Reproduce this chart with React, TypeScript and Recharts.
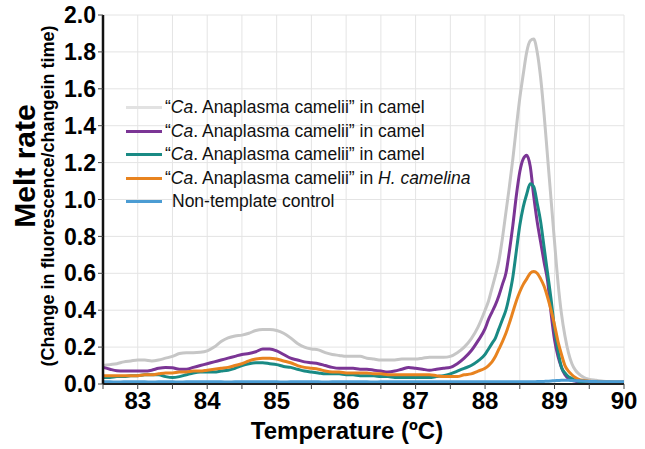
import React from 'react';
import { LineChart, Line, XAxis, YAxis, CartesianGrid, Legend } from 'recharts';

const temperatures = [
  82.5, 82.6, 82.7, 82.8, 82.9,
  83.0, 83.1, 83.2, 83.3, 83.4, 83.5, 83.6, 83.7, 83.8, 83.9,
  84.0, 84.1, 84.2, 84.3, 84.4, 84.5, 84.6, 84.7, 84.8, 84.9,
  85.0, 85.1, 85.2, 85.3, 85.4, 85.5, 85.6, 85.7, 85.8, 85.9,
  86.0, 86.1, 86.2, 86.3, 86.4, 86.5, 86.6, 86.7, 86.8, 86.9,
  87.0, 87.1, 87.2, 87.3, 87.4, 87.5, 87.6, 87.7, 87.8, 87.9,
  88.0, 88.05, 88.1, 88.15, 88.2, 88.25, 88.3, 88.35, 88.4, 88.45,
  88.5, 88.55, 88.6, 88.65, 88.7, 88.75, 88.8, 88.85, 88.9, 88.95,
  89.0, 89.05, 89.1, 89.15, 89.2, 89.25, 89.3, 89.35, 89.4, 89.45,
  89.5, 89.6, 89.7, 89.8, 89.9, 90.0,
];

const camelGray = [
  0.10, 0.105, 0.11, 0.12, 0.125,
  0.13, 0.13, 0.125, 0.13, 0.14, 0.15, 0.165, 0.17, 0.17, 0.172,
  0.18, 0.20, 0.23, 0.25, 0.26, 0.265, 0.275, 0.29, 0.295, 0.295,
  0.29, 0.275, 0.25, 0.22, 0.20, 0.19, 0.185, 0.17, 0.16, 0.155,
  0.15, 0.15, 0.15, 0.14, 0.135, 0.13, 0.13, 0.13, 0.135, 0.135,
  0.135, 0.14, 0.145, 0.145, 0.145, 0.15, 0.17, 0.20, 0.245, 0.31,
  0.40, 0.45, 0.52, 0.59, 0.67, 0.79, 0.93, 1.07, 1.22, 1.39,
  1.55, 1.68, 1.80, 1.86, 1.87, 1.80, 1.66, 1.46, 1.23, 1.0,
  0.77, 0.55, 0.38, 0.26, 0.17, 0.11, 0.075, 0.055, 0.04, 0.03,
  0.025, 0.02, 0.015, 0.012, 0.01, 0.01,
];

const camelPurple = [
  0.09, 0.08, 0.072, 0.07, 0.07,
  0.07, 0.07, 0.075, 0.085, 0.09, 0.088, 0.08, 0.08, 0.09, 0.10,
  0.11, 0.12, 0.13, 0.14, 0.15, 0.16, 0.165, 0.175, 0.19, 0.19,
  0.18, 0.16, 0.14, 0.13, 0.12, 0.115, 0.11, 0.10, 0.09, 0.085,
  0.085, 0.085, 0.08, 0.08, 0.075, 0.07, 0.065, 0.07, 0.08, 0.09,
  0.085, 0.08, 0.075, 0.08, 0.085, 0.09, 0.11, 0.14, 0.18, 0.235,
  0.30, 0.35, 0.39, 0.43, 0.48, 0.54, 0.60, 0.72, 0.86, 1.02,
  1.15, 1.22, 1.24, 1.18, 1.02, 0.88, 0.77, 0.66, 0.56, 0.385,
  0.24, 0.15, 0.09, 0.05, 0.03, 0.02, 0.015, 0.012, 0.01, 0.01,
  0.01, 0.01, 0.01, 0.01, 0.01, 0.01,
];

const camelTeal = [
  0.035, 0.035, 0.04, 0.04, 0.045,
  0.045, 0.05, 0.05, 0.05, 0.04, 0.035, 0.04, 0.05, 0.06, 0.065,
  0.065, 0.065, 0.07, 0.075, 0.085, 0.10, 0.11, 0.115, 0.115, 0.11,
  0.105, 0.095, 0.09, 0.08, 0.07, 0.065, 0.06, 0.055, 0.055, 0.055,
  0.05, 0.05, 0.045, 0.045, 0.045, 0.04, 0.04, 0.035, 0.035, 0.035,
  0.035, 0.035, 0.035, 0.04, 0.045, 0.055, 0.07, 0.085, 0.10, 0.125,
  0.16, 0.19, 0.22, 0.25, 0.30, 0.35, 0.40, 0.48, 0.58, 0.72,
  0.86, 0.96, 1.03, 1.085, 1.07, 0.98, 0.88, 0.74, 0.60, 0.46,
  0.30, 0.18, 0.09, 0.06, 0.04, 0.03, 0.02, 0.015, 0.01, 0.01,
  0.01, 0.01, 0.01, 0.01, 0.01, 0.01,
];

const tickOrange = [
  0.045, 0.045, 0.045, 0.045, 0.045,
  0.045, 0.05, 0.05, 0.055, 0.06, 0.06, 0.065, 0.065, 0.07, 0.07,
  0.075, 0.08, 0.085, 0.09, 0.10, 0.11, 0.125, 0.135, 0.14, 0.14,
  0.135, 0.125, 0.115, 0.10, 0.09, 0.085, 0.08, 0.07, 0.065, 0.065,
  0.06, 0.06, 0.06, 0.06, 0.055, 0.055, 0.05, 0.05, 0.05, 0.05,
  0.05, 0.05, 0.05, 0.045, 0.04, 0.04, 0.04, 0.05, 0.055, 0.07,
  0.085, 0.10, 0.12, 0.15, 0.19, 0.23, 0.275, 0.33, 0.39, 0.45,
  0.50, 0.54, 0.57, 0.60, 0.61, 0.60, 0.57, 0.53, 0.47, 0.40,
  0.32, 0.23, 0.16, 0.10, 0.07, 0.05, 0.035, 0.025, 0.02, 0.018,
  0.015, 0.012, 0.01, 0.01, 0.01, 0.01,
];

const controlBlue = [
  0.012, 0.012, 0.011, 0.012, 0.012,
  0.012, 0.012, 0.011, 0.012, 0.012, 0.012, 0.011, 0.012, 0.012, 0.012,
  0.012, 0.012, 0.012, 0.011, 0.012, 0.012, 0.012, 0.012, 0.012, 0.012,
  0.012, 0.011, 0.012, 0.012, 0.012, 0.012, 0.012, 0.011, 0.012, 0.012,
  0.012, 0.012, 0.012, 0.012, 0.011, 0.012, 0.012, 0.012, 0.012, 0.012,
  0.012, 0.012, 0.012, 0.012, 0.012, 0.012, 0.012, 0.012, 0.012, 0.012,
  0.012, 0.012, 0.012, 0.012, 0.012, 0.012, 0.012, 0.012, 0.012, 0.012,
  0.012, 0.012, 0.012, 0.012, 0.012, 0.013, 0.013, 0.014, 0.015, 0.016,
  0.018, 0.019, 0.02, 0.02, 0.02, 0.019, 0.018, 0.017, 0.016, 0.015,
  0.014, 0.013, 0.012, 0.012, 0.012, 0.012,
];

const xTicks = [82.5, 83, 83.5, 84, 84.5, 85, 85.5, 86, 86.5, 87, 87.5, 88, 88.5, 89, 89.5, 90];
const yTicks = [0, 0.2, 0.4, 0.6, 0.8, 1.0, 1.2, 1.4, 1.6, 1.8, 2.0];

const data = temperatures.map((t, i) => ({
  t,
  gray: camelGray[i],
  purple: camelPurple[i],
  teal: camelTeal[i],
  orange: tickOrange[i],
  blue: controlBlue[i],
}));

const FONT = 'Liberation Sans, Arial, Helvetica, sans-serif';

const COLORS = {
  gray: '#c6c6c6',
  purple: '#7b3595',
  teal: '#198a84',
  orange: '#e8831f',
  blue: '#4b9cd3',
};

const legendRows = [
  { color: '#e2e2e2', label: <span>“<i>Ca</i>. Anaplasma camelii” in camel</span>, pad: 0 },
  { color: COLORS.purple, label: <span>“<i>Ca</i>. Anaplasma camelii” in camel</span>, pad: 0 },
  { color: COLORS.teal, label: <span>“<i>Ca</i>. Anaplasma camelii” in camel</span>, pad: 0 },
  { color: COLORS.orange, label: <span>“<i>Ca</i>. Anaplasma camelii” in <i>H. camelina</i></span>, pad: 0 },
  { color: COLORS.blue, label: <span>Non-template control</span>, pad: 7 },
];

const renderLegend = () => (
  <div style={{ fontFamily: FONT, fontSize: 17.5, color: '#111' }}>
    {legendRows.map((r, i) => (
      <div key={i} style={{ display: 'flex', alignItems: 'center', height: 23.5, whiteSpace: 'nowrap' }}>
        <div style={{ width: 36, height: 3, background: r.color, marginRight: 3 + r.pad }} />
        {r.label}
      </div>
    ))}
  </div>
);

export default function App() {
  return (
    <div style={{ width: 645, height: 449, position: 'relative' }}>
      <style>{'html,body{margin:0;padding:0;overflow:hidden;}'}</style>
      <LineChart
        width={645}
        height={449}
        data={data}
        margin={{ top: 15, right: 21, bottom: 5, left: 43 }}
      >
        <CartesianGrid stroke="#e4e4e4" strokeWidth={1} />
        <XAxis
          dataKey="t"
          type="number"
          domain={[82.5, 90]}
          ticks={xTicks}
          interval={0}
          tickFormatter={(v: number) => (Number.isInteger(v) ? String(v) : '')}
          tick={{ fontSize: 24, fontWeight: 'bold', fill: '#000', fontFamily: FONT }}
          tickSize={5}
          tickMargin={3}
          axisLine={{ stroke: '#222', strokeWidth: 2 }}
          tickLine={{ stroke: '#444' }}
          height={60}
          label={{
            content: () => (
              <text
                x={347}
                y={430}
                textAnchor="middle"
                dominantBaseline="central"
                fontFamily={FONT}
                fontSize={24}
                fontWeight="bold"
                fill="#000"
              >
                Temperature (ºC)
              </text>
            ),
          }}
        />
        <XAxis
          xAxisId="top"
          orientation="top"
          type="number"
          dataKey="t"
          domain={[82.5, 90]}
          tick={false}
          tickLine={false}
          height={0}
          axisLine={{ stroke: '#333', strokeWidth: 2 }}
        />
        <YAxis
          domain={[0, 2]}
          ticks={yTicks}
          interval={0}
          tickFormatter={(v: number) => v.toFixed(1)}
          tick={{ fontSize: 23, fontWeight: 'bold', fill: '#000', fontFamily: FONT }}
          tickSize={5}
          tickMargin={2}
          width={60}
          axisLine={{ stroke: '#111', strokeWidth: 2.5 }}
          tickLine={{ stroke: '#444' }}
          label={{
            content: () => (
              <g>
                <text
                  x={24}
                  y={166}
                  transform="rotate(-90 24 166)"
                  textAnchor="middle"
                  dominantBaseline="central"
                  fontFamily={FONT}
                  fontSize={30}
                  fontWeight="bold"
                  fill="#000"
                >
                  Melt rate
                </text>
                <text
                  x={48}
                  y={196}
                  transform="rotate(-90 48 196)"
                  textAnchor="middle"
                  dominantBaseline="central"
                  fontFamily={FONT}
                  fontSize={18}
                  fontWeight="bold"
                  fill="#000"
                >
                  (Change in fluorescence/changein time)
                </text>
              </g>
            ),
          }}
        />
        <YAxis
          yAxisId="right"
          orientation="right"
          domain={[0, 2]}
          tick={false}
          tickLine={false}
          width={0}
          axisLine={{ stroke: '#333', strokeWidth: 2 }}
        />
        <Legend
          layout="vertical"
          align="center"
          verticalAlign="middle"
          content={renderLegend}
          wrapperStyle={{ position: 'absolute', left: 126, top: 96, width: 'auto', height: 'auto' }}
        />
        <Line type="monotone" dataKey="gray" stroke={COLORS.gray} strokeWidth={3} dot={false} isAnimationActive={false} />
        <Line type="monotone" dataKey="purple" stroke={COLORS.purple} strokeWidth={3} dot={false} isAnimationActive={false} />
        <Line type="monotone" dataKey="teal" stroke={COLORS.teal} strokeWidth={3} dot={false} isAnimationActive={false} />
        <Line type="monotone" dataKey="orange" stroke={COLORS.orange} strokeWidth={3} dot={false} isAnimationActive={false} />
        <Line type="monotone" dataKey="blue" stroke={COLORS.blue} strokeWidth={3} dot={false} isAnimationActive={false} />
      </LineChart>
    </div>
  );
}
